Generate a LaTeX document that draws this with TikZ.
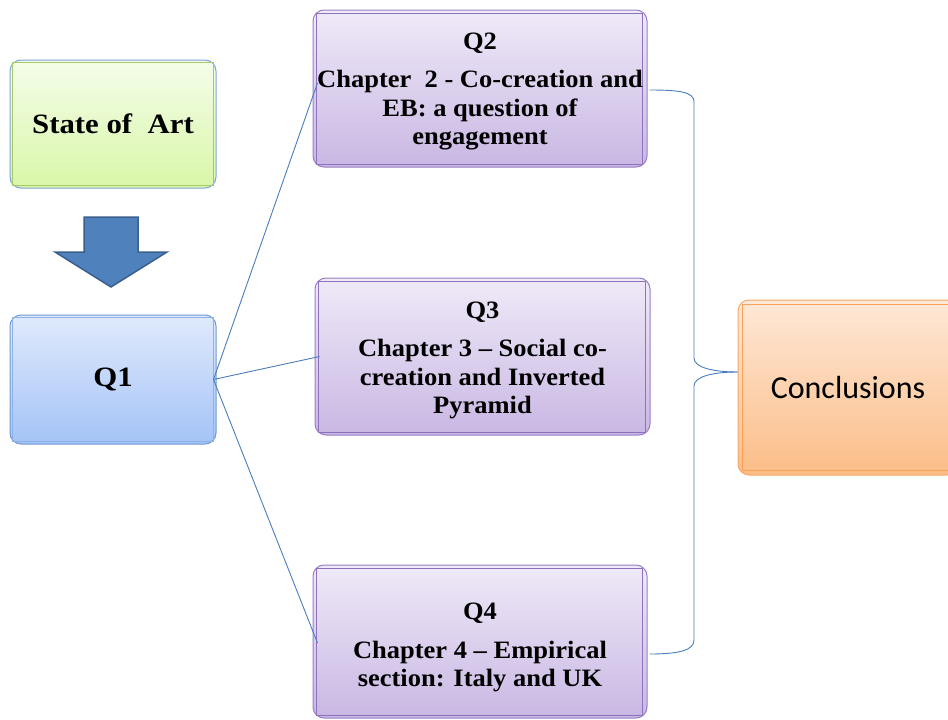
\documentclass[tikz,border=0pt]{standalone}
\usepackage{fontspec}
\setmainfont{Liberation Serif}[FakeStretch=1.1]
\newfontfamily\qfont{Liberation Serif}[FakeStretch=1.06]
\newfontfamily\calib{Carlito}
\definecolor{soaTop}{HTML}{F4FDEA}
\definecolor{soaBot}{HTML}{D9F7A8}
\definecolor{soaIn}{HTML}{A8C96A}
\definecolor{soaOut}{HTML}{7FA3DB}
\definecolor{qoneTop}{HTML}{E0EAFC}
\definecolor{qoneBot}{HTML}{A4C3F7}
\definecolor{qoneOut}{HTML}{6F98D4}
\definecolor{qoneIn}{HTML}{8FB2E6}
\definecolor{qTop}{HTML}{EFEAF8}
\definecolor{qBot}{HTML}{C9B7E3}
\definecolor{qOut}{HTML}{9A7FC6}
\definecolor{qIn}{HTML}{8E72BE}
\definecolor{cTop}{HTML}{FEE8D7}
\definecolor{cBot}{HTML}{FBBD87}
\definecolor{cOut}{HTML}{F6A968}
\definecolor{cIn}{HTML}{F7A15C}
\definecolor{lineC}{HTML}{4A7EBB}
\definecolor{arrowFill}{HTML}{4F81BD}
\definecolor{arrowDraw}{HTML}{3A5F8E}
\begin{document}
\begin{tikzpicture}[x=1pt,y=-1pt,
  box/.style={rounded corners=11pt, line width=1pt, inner sep=0pt, align=center},
  innerbox/.style={line width=0.8pt},
  qbox/.style={box, minimum width=334pt, top color=qTop, bottom color=qBot, draw=qOut},
  qtext/.style={align=center, inner sep=0pt, font=\qfont\bfseries\fontsize{25}{28.5}\selectfont},
  conn/.style={draw=lineC, line width=0.9pt}]
\useasboundingbox (0,0) rectangle (948,720);

% State of Art
\node[box, minimum width=206pt, minimum height=128pt, top color=soaTop, bottom color=soaBot,
  draw=soaOut, font=\bfseries\fontsize{28}{32}\selectfont] (soa) at (113,124) {State of~ Art};
\draw[innerbox, draw=soaIn] ([shift={(3,3)}]soa.north west) rectangle ([shift={(-3,-3)}]soa.south east);

% arrow
\draw[fill=arrowFill, draw=arrowDraw, line width=1.5pt, line join=miter]
  (84,217) -- (138,217) -- (138,252) -- (167,252) -- (111,287) -- (55,252) -- (84,252) -- cycle;

% Q1
\node[box, minimum width=206pt, minimum height=129pt, top color=qoneTop, bottom color=qoneBot,
  draw=qoneOut, font=\bfseries\fontsize{28}{32}\selectfont] (q1) at (113,379.5) {Q1};
\draw[innerbox, draw=qoneIn] ([shift={(3,3)}]q1.north west) rectangle ([shift={(-3,-3)}]q1.south east);

% Q2
\node[qbox, minimum height=157pt] (q2) at (480,88.5) {};
\draw[innerbox, draw=qIn] ([shift={(4,4)}]q2.north west) rectangle ([shift={(-5,-3)}]q2.south east);
\node[qtext] (q2t) at ([yshift=-3pt]q2.center)
  {Q2\\[10pt]Chapter~ 2 - Co-creation and\\EB: a question of\\engagement};

% Q3
\node[qbox, minimum width=335pt, minimum height=157pt] (q3) at (482.5,356.5) {};
\draw[innerbox, draw=qIn] ([shift={(4,4)}]q3.north west) rectangle ([shift={(-5,-3)}]q3.south east);
\node[qtext] (q3t) at ([yshift=-4pt]q3.center)
  {Q3\\[10pt]Chapter 3 – Social co-\\creation and Inverted\\Pyramid};

% Q4
\node[qbox, minimum height=153pt] (q4) at (480,641.5) {};
\draw[innerbox, draw=qIn] ([shift={(4,4)}]q4.north west) rectangle ([shift={(-5,-3)}]q4.south east);
\node[qtext] (q4t) at ([yshift=-6pt]q4.center)
  {Q4\\[10pt]Chapter 4 – Empirical\\section: Italy and UK};

% Conclusions
\node[box, minimum width=220pt, minimum height=175pt, top color=cTop, bottom color=cBot,
  draw=cOut, font=\calib\fontsize{32}{36}\selectfont] (concl) at (848,387.5) {Conclusions};
\draw[innerbox, draw=cIn] ([shift={(5,5)}]concl.north west) rectangle ([shift={(-5,-5)}]concl.south east);

% connectors from Q1
\draw[conn] ([shift={(-3,0)}]q1.east) -- ([shift={(5,-5.5)}]q2.west);
\draw[conn] ([shift={(-3,0)}]q1.east) -- ([shift={(5,0)}]q3.west);
\draw[conn] ([shift={(-3,0)}]q1.east) -- ([shift={(5,1.5)}]q4.west);

% bracket to Conclusions
\draw[conn] ([shift={(2,1.5)}]q2.east) .. controls (680,90) and (694,92) .. (694,102)
  -- (694,358) .. controls (694,368) and (715,372) .. ([shift={(0,-15.5)}]concl.west);
\draw[conn] ([shift={(0,-15.5)}]concl.west) .. controls (715,372) and (694,376) .. (694,386)
  -- (694,640) .. controls (694,650) and (680,654) .. ([shift={(2,12.5)}]q4.east);
\end{tikzpicture}
\end{document}
